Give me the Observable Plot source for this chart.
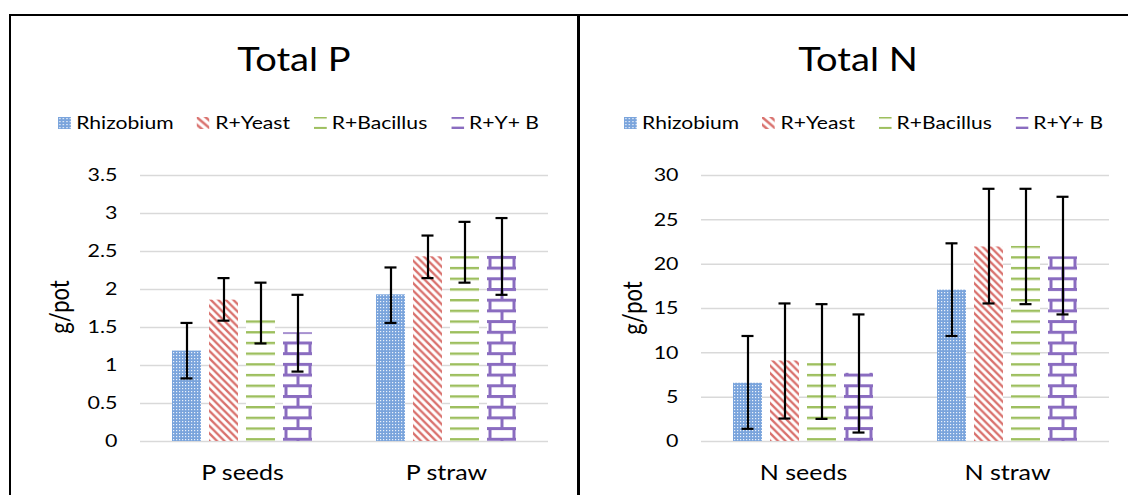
<!DOCTYPE html>
<html><head><meta charset="utf-8">
<script src="https://cdn.jsdelivr.net/npm/d3@7"></script>
<script src="https://cdn.jsdelivr.net/npm/@observablehq/plot@0.6"></script>
<style>
html,body{margin:0;padding:0;background:#fff;overflow:hidden;width:1128px;height:495px;font-family:Lato,"Open Sans",sans-serif;color:#000}
#page{position:relative;width:1128px;height:495px;overflow:hidden;background:#fff}
.line{position:absolute;background:#000;z-index:5}
.title{position:absolute;font-size:32px;line-height:32px;white-space:nowrap;transform:translateX(-50%) scaleX(1.19)}
.legend{position:absolute;font-size:18px;line-height:18px;white-space:nowrap;transform-origin:0 0}
.legend .item{display:inline-block;margin-right:20px}
.legend .item:last-child{margin-right:0}
.legend svg{display:inline-block;vertical-align:baseline;margin-right:4.5px}
.ylab{position:absolute;font-size:22px;line-height:22px;white-space:nowrap;transform:translate(-50%,-50%) scaleX(1.19) rotate(-90deg)}
.chart{position:absolute;top:150px}
.chart svg{background:none}
.chart [aria-label^="fx-axis"] text{font-size:21px}
.chart [aria-label^="y-axis"] text{font-size:18px}
</style>
</head><body>
<svg width="0" height="0" style="position:absolute;left:0;top:0">
<defs>
<pattern id="pat-rhiz" patternUnits="userSpaceOnUse" width="3" height="3">
<rect width="3" height="3" fill="#7aa4dc"/>
<rect x="1" y="1" width="1.2" height="1.2" fill="#fff" fill-opacity="0.85"/>
</pattern>
<pattern id="pat-yeast" patternUnits="userSpaceOnUse" width="7.5" height="7.5">
<rect width="7.5" height="7.5" fill="#fff"/>
<path d="M0,0L7.5,7.5M-1.875,5.625L1.875,9.375M5.625,-1.875L9.375,1.875" stroke="#d9706c" stroke-width="2.3"/>
</pattern>
<pattern id="pat-bac" patternUnits="userSpaceOnUse" width="10" height="10.7" y="-0.8">
<rect width="10" height="10.7" fill="#fff"/>
<rect y="0" width="10" height="2.4" fill="#9dbf5e"/>
</pattern>
<pattern id="pat-ryb" patternUnits="userSpaceOnUse" width="24" height="21.4" y="-1.1">
<rect width="24" height="21.4" fill="#fff"/>
<rect y="0" width="24" height="3" fill="#8a6cc0"/>
<rect y="10.7" width="24" height="3" fill="#8a6cc0"/>
<rect x="0" y="0" width="3" height="10.7" fill="#8a6cc0"/>
<rect x="12" y="10.7" width="3" height="10.7" fill="#8a6cc0"/>
</pattern>
</defs>
</svg>
<div id="page">
<div class="title" style="left:293.5px;top:42.6px">Total P</div>
<div class="title" style="left:858px;top:42.6px">Total N</div>
<div class="legend" id="legP" style="left:58px;top:113.3px"></div>
<div class="legend" id="legN" style="left:624px;top:113.3px"></div>
<div class="ylab" style="left:59px;top:307px">g/pot</div>
<div class="ylab" style="left:631.5px;top:308px">g/pot</div>
<div class="chart" id="chartP" style="left:0px"></div>
<div class="chart" id="chartN" style="left:561px"></div>
<div class="line" style="left:9px;top:14px;width:1119px;height:2px"></div>
<div class="line" style="left:9px;top:14px;width:1.5px;height:481px"></div>
<div class="line" style="left:577px;top:14px;width:3px;height:481px"></div>
</div>
<script>
const series = ["Rhizobium", "R+Yeast", "R+Bacillus", "R+Y+ B"];
const catsP = ["P seeds", "P straw"];
const catsN = ["N seeds", "N straw"];
const pSeeds = [1.19, 1.86, 1.60, 1.43];
const pStraw = [1.93, 2.43, 2.44, 2.44];
const pSeedsLow = [0.83, 1.59, 1.29, 0.92];
const pSeedsHigh = [1.56, 2.15, 2.09, 1.93];
const pStrawLow = [1.56, 2.15, 2.09, 1.93];
const pStrawHigh = [2.29, 2.71, 2.89, 2.94];
const nSeeds = [6.57, 9.08, 8.93, 7.69];
const nStraw = [17.07, 21.94, 22.0, 20.82];
const nSeedsLow = [1.43, 2.59, 2.55, 1.01];
const nSeedsHigh = [11.9, 15.57, 15.49, 14.33];
const nStrawLow = [11.9, 15.57, 15.49, 14.33];
const nStrawHigh = [22.35, 28.5, 28.5, 27.6];
const pTicks = [0, 0.5, 1, 1.5, 2, 2.5, 3, 3.5];
const nTicks = [0, 5, 10, 15, 20, 25, 30];
const patterns = ["url(#pat-rhiz)", "url(#pat-yeast)", "url(#pat-bac)", "url(#pat-ryb)"];
const STRETCH = 1.19;

function buildRows(cats, vals, lows, highs) {
  const rows = [];
  cats.forEach((c, i) => series.forEach((s, j) => rows.push({cat: c, series: s, value: vals[i][j], lo: lows[i][j], hi: highs[i][j]})));
  return rows;
}
const rowsP = buildRows(catsP, [pSeeds, pStraw], [pSeedsLow, pStrawLow], [pSeedsHigh, pStrawHigh]);
const rowsN = buildRows(catsN, [nSeeds, nStraw], [nSeedsLow, nStrawLow], [nSeedsHigh, nStrawHigh]);

function makeChart(rows, cats, ticks, width, marginRight) {
  const yMax = ticks[ticks.length - 1];
  return Plot.plot({
    width, height: 345,
    marginLeft: 139, marginRight, marginTop: 25, marginBottom: 54,
    style: {fontFamily: "Lato, 'Open Sans', sans-serif", fontSize: "18px", color: "#000", background: "none", overflow: "visible"},
    fx: {domain: cats, padding: 0, label: null, tickSize: 0, tickPadding: 24, axis: "bottom"},
    x: {domain: series, paddingInner: 0.215, paddingOuter: 0.856, axis: null},
    y: {domain: [0, yMax], ticks, tickSize: 0, tickPadding: 23, label: null, tickFormat: d => String(d)},
    color: {domain: series, range: patterns},
    marks: [
      Plot.ruleY(ticks, {stroke: "#d9d9d9", strokeWidth: 1.5}),
      Plot.barY(rows, {fx: "cat", x: "series", y: "value", fill: "series"}),
      Plot.ruleX(rows, {fx: "cat", x: "series", y1: "lo", y2: "hi", stroke: "#000", strokeWidth: 2.2}),
      Plot.tickY(rows, {fx: "cat", x: "series", y: "lo", stroke: "#000", strokeWidth: 2.2, insetLeft: 8.5, insetRight: 8.5}),
      Plot.tickY(rows, {fx: "cat", x: "series", y: "hi", stroke: "#000", strokeWidth: 2.2, insetLeft: 8.5, insetRight: 8.5})
    ]
  });
}

function stretchTexts(svg) {
  svg.querySelectorAll('[aria-label^="y-axis"] text, [aria-label^="fx-axis"] text').forEach(t => {
    const x = parseFloat(t.getAttribute("x")) || 0;
    const tr = t.getAttribute("transform") || "";
    t.setAttribute("transform", `${tr} translate(${x},0) scale(${STRETCH},1) translate(${-x},0)`);
  });
}

const chartP = makeChart(rowsP, catsP, pTicks, 577, 29);
const chartN = makeChart(rowsN, catsN, nTicks, 567, 19);
document.getElementById("chartP").appendChild(chartP);
document.getElementById("chartN").appendChild(chartN);
stretchTexts(chartP); stretchTexts(chartN);

const ryb = chartP.querySelector('rect[fill="url(#pat-ryb)"]');
if (ryb) {
  const bx = parseFloat(ryb.getAttribute("x")) || 0;
  document.getElementById("pat-ryb").setAttribute("x", bx + 1.5);
}

function buildLegend(el, targetWidth) {
  series.forEach((s, j) => {
    const item = document.createElement("span");
    item.className = "item";
    item.innerHTML = `<svg width="11" height="12"><rect width="11" height="12" fill="${patterns[j]}"/></svg><span>${s}</span>`;
    el.appendChild(item);
  });
  const w = el.getBoundingClientRect().width;
  el.style.transform = `scaleX(${targetWidth / w})`;
}
buildLegend(document.getElementById("legP"), 481);
buildLegend(document.getElementById("legN"), 479);
</script>
</body></html>
